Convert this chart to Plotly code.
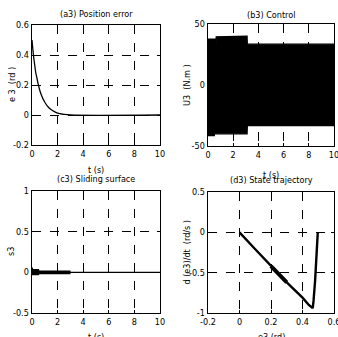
import plotly.graph_objects as go

W, H = 338, 337
FONT = "DejaVu Sans Condensed, Liberation Sans Narrow, Arial Narrow, Liberation Sans, Arial, sans-serif"

# ---- data ----
# (a3) position error
t_a = [0, 0.1, 0.2, 0.3, 0.4, 0.5, 0.7, 1.0, 1.3, 1.6, 2.0, 2.5, 3.0, 10]
e_a = [0.5, 0.41, 0.34, 0.28, 0.24, 0.2, 0.14, 0.085, 0.05, 0.03, 0.012, 0.004, 0.0, 0.0]

# (b3) control: envelope of the chattering signal
t_bu = [0, 0.55, 0.56, 0.64, 0.65, 2.5, 2.6, 3.1, 3.12, 10]
u_bu = [37.5, 37.5, 32, 32, 39.5, 39.5, 40, 40, 33.5, 33.5]
t_bl = [0, 0.5, 0.51, 3.1, 3.12, 10]
u_bl = [-41.5, -41.5, -40, -40, -33.3, -33.3]

# (c3) sliding surface: zero line and chattering band
t_c = [0, 10]
s_c = [0, 0]
t_cu = [0, 0.02, 0.05, 0.5, 0.55, 3.0]
s_cu = [0.05, 0.05, 0.033, 0.033, 0.015, 0.015]
t_cl = [0, 0.5, 0.55, 3.0]
s_cl = [-0.029, -0.029, -0.015, -0.015]

# (d3) state trajectory
e_d = [0.497, 0.49, 0.48, 0.47, 0.465, 0.44, 0.40, 0.30, 0.25, 0.20, 0.10, 0.0]
de_d = [0.0, -0.3, -0.6, -0.85, -0.94, -0.90, -0.81, -0.62, -0.52, -0.42, -0.21, 0.0]
e_dt = [0.30, 0.25, 0.20]
de_dt = [-0.62, -0.52, -0.42]

titles = ["(a3) Position error", "(b3) Control", "(c3) Sliding surface", "(d3) State trajectory"]
xlabels = ["t (s)", "t (s)", "t (s)", "e3 (rd)"]
ylabels = ["e 3  (rd )", "U3  (N.m )", "s3", "d (e3)/dt  (rd/s )"]

# ---- layout helpers (pixels -> paper) ----
def px(x):
    return x / W

def py(y):
    return 1 - y / H

boxes = {  # left, right, top, bottom in pixels
    1: (32, 160, 25, 145),
    2: (208, 334, 24, 146),
    3: (32, 160, 191, 313),
    4: (208, 334, 192, 313),
}

fig = go.Figure()
K = dict(mode="lines", line=dict(color="black", width=1.3), showlegend=False, hoverinfo="skip")

fig.add_trace(go.Scatter(x=t_a, y=e_a, xaxis="x", yaxis="y", line_shape="spline", **K))

fig.add_trace(go.Scatter(x=t_bl, y=u_bl, xaxis="x2", yaxis="y2", **K))
fig.add_trace(go.Scatter(x=t_bu, y=u_bu, xaxis="x2", yaxis="y2", fill="tonexty",
                         fillcolor="black", **K))

fig.add_trace(go.Scatter(x=t_cl, y=s_cl, xaxis="x3", yaxis="y3", **K))
fig.add_trace(go.Scatter(x=t_cu, y=s_cu, xaxis="x3", yaxis="y3", fill="tonexty",
                         fillcolor="black", **K))
fig.add_trace(go.Scatter(x=t_c, y=s_c, xaxis="x3", yaxis="y3", **K))

fig.add_trace(go.Scatter(x=e_d, y=de_d, xaxis="x4", yaxis="y4", mode="lines",
                         line=dict(color="black", width=2.4), showlegend=False, hoverinfo="skip"))
fig.add_trace(go.Scatter(x=e_dt, y=de_dt, xaxis="x4", yaxis="y4", mode="lines",
                         line=dict(color="black", width=4.0), showlegend=False, hoverinfo="skip"))

FS = 9
TF = dict(family=FONT, size=FS, color="black")
axis_common = dict(
    showline=True, linecolor="black", linewidth=1.4, mirror="ticks",
    ticks="inside", ticklen=3, tickwidth=1, tickcolor="black",
    showgrid=True, gridcolor="black", gridwidth=1, griddash="dash",
    zeroline=False, tickfont=TF, automargin=False, ticklabeloverflow="allow",
    fixedrange=True,
)

xr = {1: [0, 10], 2: [0, 10], 3: [0, 10], 4: [-0.2, 0.6]}
xt = {1: [0, 2, 4, 6, 8, 10], 2: [0, 2, 4, 6, 8, 10], 3: [0, 2, 4, 6, 8, 10],
      4: [-0.2, 0, 0.2, 0.4, 0.6]}
yr = {1: [-0.2, 0.6], 2: [-50, 50], 3: [-0.5, 1], 4: [-1, 0.5]}
yt = {1: [-0.2, 0, 0.2, 0.4, 0.6], 2: [-50, 0, 50], 3: [-0.5, 0, 0.5, 1], 4: [-1, -0.5, 0, 0.5]}
ytl = {1: ["-0.2", "0", "0.2", "0.4", "0.6"], 2: ["-50", "0", "50"],
       3: ["-0.5", "0", "0.5", "1"], 4: ["-1", "-0.5", "0", "0.5"]}
xtl = {4: ["-0.2", "0", "0.2", "0.4", "0.6"]}

layout = {}
for i in range(1, 5):
    l, r, t, b = boxes[i]
    sx = "" if i == 1 else str(i)
    layout["xaxis" + sx] = dict(axis_common, domain=[px(l), px(r)], range=xr[i],
                                tickvals=xt[i],
                                ticktext=xtl.get(i, [str(v) for v in xt[i]]),
                                anchor="y" + sx)
    layout["yaxis" + sx] = dict(axis_common, domain=[py(b), py(t)], range=yr[i],
                                tickvals=yt[i], ticktext=ytl[i], anchor="x" + sx)

ann = []
afont = dict(family=FONT, size=FS, color="black")
title_y = {1: 14, 2: 15, 3: 179, 4: 180}
xlab_y = {1: 170, 2: 175, 3: 337, 4: 337}
ylab_x = {1: 12, 2: 187, 3: 11, 4: 187}
for i in range(1, 5):
    l, r, t, b = boxes[i]
    cx = (l + r) / 2
    ann.append(dict(text=titles[i - 1], x=px(cx), y=py(title_y[i]), xref="paper", yref="paper",
                    showarrow=False, font=afont, xanchor="center", yanchor="middle"))
    ann.append(dict(text=xlabels[i - 1], x=px(cx), y=py(xlab_y[i]), xref="paper", yref="paper",
                    showarrow=False, font=afont, xanchor="center", yanchor="middle"))
    ann.append(dict(text=ylabels[i - 1], x=px(ylab_x[i]), y=py((t + b) / 2), xref="paper",
                    yref="paper", showarrow=False, font=afont, textangle=-90,
                    xanchor="center", yanchor="middle"))

fig.update_layout(width=W, height=H, margin=dict(l=0, r=0, t=0, b=0),
                  paper_bgcolor="white", plot_bgcolor="white",
                  annotations=ann, showlegend=False, **layout)

fig.write_html("out.html", config={"displayModeBar": False, "staticPlot": True},
               post_script="document.body.style.margin='0';document.body.style.overflow='hidden';")
